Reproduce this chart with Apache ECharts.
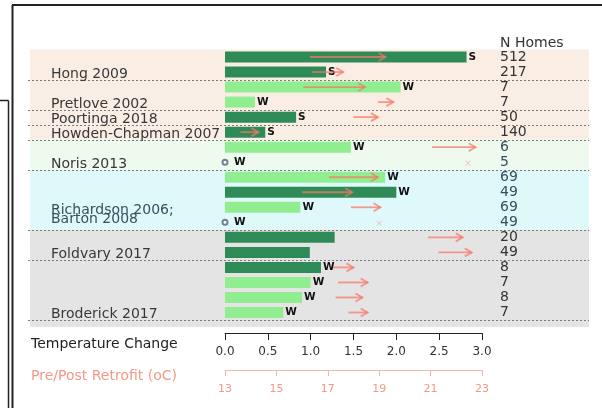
<!DOCTYPE html>
<html><head><meta charset="utf-8">
<script src="https://cdn.jsdelivr.net/npm/echarts@6/dist/echarts.min.js"></script>
<style>html,body{margin:0;padding:0;background:#fff}#c{width:602px;height:408px}</style>
</head><body><div id="c"></div>
<script>
// ---- data ----
const studies = ['Hong 2009','Pretlove 2002','Poortinga 2018','Howden-Chapman 2007','Noris 2013','Richardson 2006;\nBarton 2008','Foldvary 2017','Broderick 2017'];
const studyRowCounts = [2,2,1,1,2,4,2,4];
const nHomes = [512,217,7,7,50,140,6,5,69,49,69,49,20,49,8,7,8,7];
const tempChange = [2.82,1.18,2.05,0.35,0.83,0.47,1.47,0,1.87,2.0,0.88,0,1.28,0.99,1.12,1.0,0.9,0.68];
const seasonLetter = ['S','S','W','W','S','S','W','W','W','W','W','W','','','W','W','W','W'];
const barShade = ['dark','dark','light','light','dark','dark','light','none','light','dark','light','none','dark','dark','dark','light','light','light'];
const preTemp = [16.3,16.4,16.05,18.95,18.0,13.6,21.05,22.45,17.05,16.0,17.9,19.0,20.9,21.3,17.2,17.4,17.3,17.8];
const postTemp = [19.25,17.6,18.45,19.55,18.95,14.3,22.75,22.45,18.95,17.95,19.05,19.0,22.25,22.6,18.0,18.55,18.35,18.55];
const changeTicks = [0,0.5,1,1.5,2,2.5,3];
const tempTicks = [13,15,17,19,21,23];
const bandRowCounts = [6,2,4,6];

// ---- styles ----
const FONT = 'DejaVu Sans';
const shadeColor = {dark:'#2E8B57', light:'#90EE90', none:'rgba(0,0,0,0)'};
const bandColors = ['#FAEDE4','#EFFAEF','#DFF9FB','#E4E4E4'];
const tintBands = [1,2];
const arrowColor = 'rgba(248,118,104,0.72)';
const salmonText = '#F29A86';

// ---- derived ----
const rows = nHomes.map((_, i) => String(i));
const studyEnds = [];
{ let r = 0; studyRowCounts.forEach((c, i) => { r += c; studyEnds.push([0, r - 1, i]); }); }
const bands = [];
{ let r = 0; bandRowCounts.forEach((c, i) => { bands.push([r, r + c - 1, i]); r += c; }); }
const rowBand = [];
bands.forEach(b => { for (let r = b[0]; r <= b[1]; r++) rowBand[r] = b[2]; });
const tBase = tempTicks[0];
const tInterval = tempTicks[1] - tempTicks[0];
const tMax = tempTicks[tempTicks.length - 1] - tBase;
const arrowData = preTemp.map((p, i) => [p - tBase, i, postTemp[i] - tBase]);
const zeroRows = tempChange.map((v, i) => v === 0 ? [0, i] : null).filter(Boolean);

const chart = echarts.init(document.getElementById('c'), null, {renderer: 'canvas'});

const option = {
  animation: false,
  backgroundColor: '#fff',
  grid: {left: 225, right: 120, top: 49.5, bottom: 88, containLabel: false},
  xAxis: [
    {type: 'value', min: changeTicks[0], max: changeTicks[changeTicks.length - 1], interval: changeTicks[1] - changeTicks[0],
     position: 'bottom', offset: 13,
     axisLine: {show: true, onZero: false, lineStyle: {color: '#222', width: 1}},
     axisTick: {show: true, inside: false, length: 7, lineStyle: {color: '#222', width: 1}},
     axisLabel: {margin: 13, fontSize: 12, fontFamily: FONT, color: '#333', formatter: v => v.toFixed(1)},
     splitLine: {show: false}},
    {type: 'value', min: 0, max: tMax, interval: tInterval,
     position: 'bottom', offset: 50,
     axisLine: {show: true, onZero: false, lineStyle: {color: '#F6B7A6', width: 1}},
     axisTick: {show: true, inside: false, length: 6, lineStyle: {color: '#F6B7A6', width: 1}},
     axisLabel: {margin: 14, fontSize: 11, fontFamily: FONT, color: salmonText, formatter: v => String(v + tBase)},
     splitLine: {show: false}}
  ],
  yAxis: [
    {type: 'category', data: rows, inverse: true,
     axisLine: {show: false}, axisTick: {show: false}, axisLabel: {show: false}, splitLine: {show: false}},
    {type: 'category', data: rows, inverse: true, position: 'right',
     axisLine: {show: false}, axisTick: {show: false}, splitLine: {show: false},
     axisLabel: {show: true, interval: 0, margin: 18, fontSize: 14, fontFamily: FONT, padding: [3, 0, 0, 0],
       formatter: (v, i) => String(nHomes[i]),
       color: (v, i) => tintBands.includes(rowBand[i]) ? '#33505c' : '#333'}}
  ],
  graphic: [
    {type: 'line', shape: {x1: 12, y1: 5, x2: 602, y2: 5}, style: {stroke: '#222', lineWidth: 2}, z: 100},
    {type: 'line', shape: {x1: 12.5, y1: 5, x2: 12.5, y2: 408}, style: {stroke: '#222', lineWidth: 2}, z: 100},
    {type: 'line', shape: {x1: 0, y1: 100.5, x2: 8.5, y2: 100.5}, style: {stroke: '#222', lineWidth: 1.5}, z: 100},
    {type: 'line', shape: {x1: 8.5, y1: 100.5, x2: 8.5, y2: 408}, style: {stroke: '#222', lineWidth: 1.5}, z: 100},
    {type: 'text', x: 500, y: 43, style: {text: 'N Homes', font: '14px "DejaVu Sans"', fill: '#333', verticalAlign: 'middle'}, z: 100},
    {type: 'text', x: 31, y: 344, style: {text: 'Temperature Change', font: '14px "DejaVu Sans"', fill: '#222', verticalAlign: 'middle'}, z: 100},
    {type: 'text', x: 31, y: 376, style: {text: 'Pre/Post Retrofit (oC)', font: '14px "DejaVu Sans"', fill: salmonText, verticalAlign: 'middle'}, z: 100}
  ],
  series: [
    // background bands
    {type: 'custom', xAxisIndex: 0, yAxisIndex: 0, z: 0, silent: true, clip: false,
     data: bands,
     renderItem: (params, api) => {
       const h = api.size([0, 1])[1];
       const y0 = api.coord([0, api.value(0)])[1] - h / 2;
       let y1 = api.coord([0, api.value(1)])[1] + h / 2;
       const bi = api.value(2);
       if (bi === bands.length - 1) y1 += 7;
       return {type: 'rect', shape: {x: 30, y: y0, width: 559, height: y1 - y0}, style: {fill: bandColors[bi]}};
     }},
    // dotted separators
    {type: 'custom', xAxisIndex: 0, yAxisIndex: 0, z: 1, silent: true, clip: false,
     data: studyEnds,
     renderItem: (params, api) => {
       const h = api.size([0, 1])[1];
       const y = Math.round(api.coord([0, api.value(1)])[1] + h / 2) + 0.5;
       return {type: 'line', shape: {x1: 28, y1: y, x2: 589, y2: y}, style: {stroke: '#7a7a7a', lineWidth: 1, lineDash: [2, 2]}};
     }},
    // study labels
    {type: 'custom', xAxisIndex: 0, yAxisIndex: 0, z: 3, silent: true, clip: false,
     data: studyEnds,
     renderItem: (params, api) => {
       const yc = api.coord([0, api.value(1)])[1];
       const txt = studies[api.value(2)];
       const n = txt.split('\n').length;
       const bi = rowBand[api.value(1)];
       return {type: 'text', x: 51, y: yc + 2 - (n - 1) * 9.5,
         style: {text: txt, font: '14px "DejaVu Sans"', lineHeight: n > 1 ? 9 : 14,
           fill: tintBands.includes(bi) && n > 1 ? '#33505c' : '#383838', verticalAlign: 'middle', align: 'left'}};
     }},
    // bars
    {type: 'bar', xAxisIndex: 0, yAxisIndex: 0, z: 2, barWidth: 11,
     data: tempChange.map((v, i) => ({value: v, itemStyle: {color: shadeColor[barShade[i]]}, label: {distance: v === 0 ? 9 : 2}})),
     label: {show: true, position: 'right', fontFamily: FONT, fontSize: 10.5, fontWeight: 'bold', color: '#111',
       formatter: p => seasonLetter[p.dataIndex]}},
    // zero markers
    {type: 'scatter', xAxisIndex: 0, yAxisIndex: 0, z: 3, symbol: 'emptyCircle', symbolSize: 5,
     itemStyle: {color: '#55607a', borderWidth: 1}, data: zeroRows},
    // arrows pre -> post
    {type: 'custom', xAxisIndex: 1, yAxisIndex: 0, z: 4, silent: true, clip: false,
     encode: {x: [0, 2], y: 1},
     data: arrowData,
     renderItem: (params, api) => {
       const r = api.value(1);
       const p0 = api.coord([api.value(0), r]);
       const p1 = api.coord([api.value(2), r]);
       if (Math.abs(p1[0] - p0[0]) < 0.5) {
         const s = 2.5, x = p1[0], y = p1[1] + 1;
         return {type: 'group', children: [
           {type: 'line', shape: {x1: x - s, y1: y - s, x2: x + s, y2: y + s}, style: {stroke: 'rgba(245,150,135,0.6)', lineWidth: 1}},
           {type: 'line', shape: {x1: x - s, y1: y + s, x2: x + s, y2: y - s}, style: {stroke: 'rgba(245,150,135,0.6)', lineWidth: 1}}
         ]};
       }
       const L = 8, dx = L * Math.cos(Math.PI / 6), dy = L * Math.sin(Math.PI / 6);
       return {type: 'group', children: [
         {type: 'line', shape: {x1: p0[0], y1: p0[1], x2: p1[0], y2: p1[1]}, style: {stroke: arrowColor, lineWidth: 1.8}},
         {type: 'polyline', shape: {points: [[p1[0] - dx, p1[1] - dy], [p1[0], p1[1]], [p1[0] - dx, p1[1] + dy]]},
          style: {stroke: arrowColor, lineWidth: 1.8, fill: null}}
       ]};
     }}
  ]
};
chart.setOption(option);
</script>
</body></html>
